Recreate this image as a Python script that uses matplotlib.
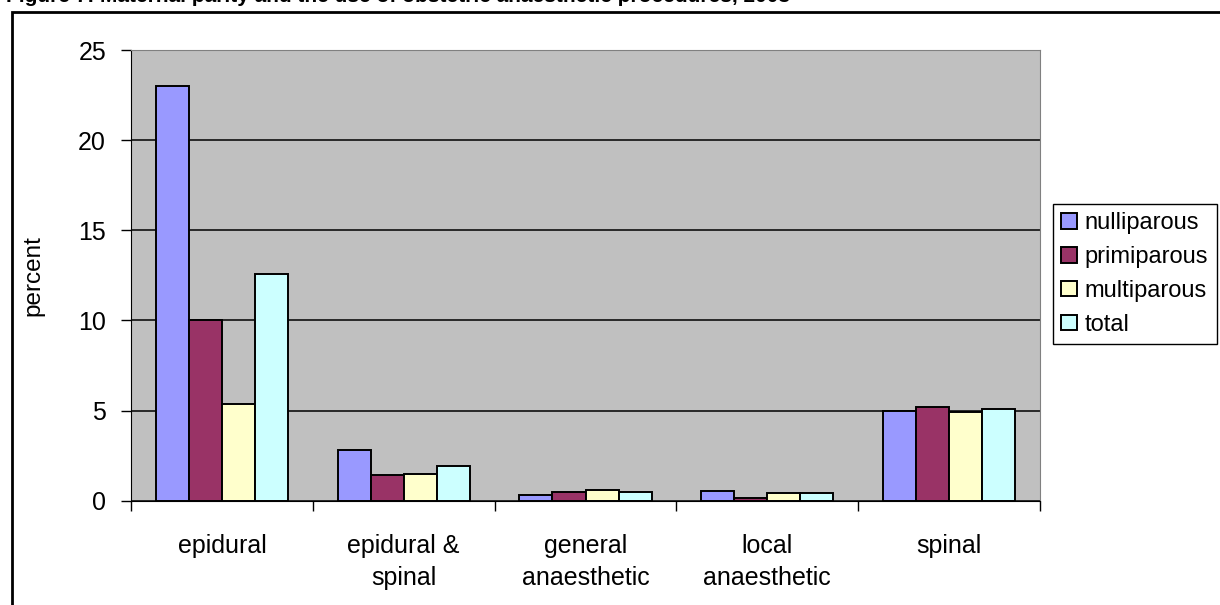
import numpy as np
import matplotlib
matplotlib.use('Agg')
import matplotlib.pyplot as plt
from matplotlib.patches import Rectangle

plt.rcParams['font.family'] = ['Liberation Sans', 'DejaVu Sans']

# anaesthetic procedure by parity, percent of births
categories = ['epidural', 'epidural &\nspinal', 'general\nanaesthetic',
              'local\nanaesthetic', 'spinal']
series = ['nulliparous', 'primiparous', 'multiparous', 'total']
nulliparous = [23.0, 2.84, 0.33, 0.56, 5.0]
primiparous = [10.0, 1.42, 0.47, 0.13, 5.22]
multiparous = [5.37, 1.49, 0.58, 0.41, 4.94]
total = [12.56, 1.92, 0.48, 0.41, 5.07]
colors = ['#9999FF', '#993366', '#FFFFCC', '#CCFFFF']

fig = plt.figure(figsize=(12.2, 6.05), dpi=100)
ax = fig.add_axes([131/1220, 1 - 500.7/605, (1040 - 131)/1220, (500.7 - 50)/605])

x = np.arange(len(categories))
w = 1 / 5.5
for i, (name, vals) in enumerate(zip(series, [nulliparous, primiparous, multiparous, total])):
    ax.bar(x + (i - 1.5) * w, vals, w, color=colors[i], edgecolor='black',
           linewidth=1.4, label=name, zorder=3)

ax.set_facecolor('#C0C0C0')
ax.set_xlim(-0.5, len(categories) - 0.5)
ax.set_ylim(0, 25)
ax.set_yticks([0, 5, 10, 15, 20, 25])
ax.yaxis.grid(True, color='black', linewidth=1.1, zorder=1)
ax.set_axisbelow(True)

# category separators as ticks, labels centred under the groups
ax.set_xticks(np.arange(len(categories) + 1) - 0.5)
ax.set_xticklabels([])
ax.set_xticks(x, minor=True)
ax.set_xticklabels(categories, minor=True, fontsize=18, linespacing=1.4)
ax.tick_params(axis='x', which='major', direction='out', length=7, width=1, colors='black')
ax.tick_params(axis='x', which='minor', length=0, pad=24)
ax.tick_params(axis='y', direction='out', length=7, width=1, labelsize=18, pad=11)

for s in ['top', 'right']:
    ax.spines[s].set_color('#808080')
for s in ['left', 'bottom']:
    ax.spines[s].set_color('black')

ax.set_ylabel('percent', fontsize=17.5, labelpad=24)

leg = ax.legend(loc='upper left', bbox_to_anchor=(1053/1220, 1 - 204/605),
                bbox_transform=fig.transFigure, fontsize=17, frameon=True,
                fancybox=False, edgecolor='black', framealpha=1,
                handlelength=0.65, handleheight=0.65, handletextpad=0.35,
                labelspacing=0.5, borderpad=0.35, borderaxespad=0)
leg.get_frame().set_linewidth(1.0)

# outer chart border and the clipped caption above it
fig.add_artist(Rectangle((12/1220, -0.1), 1.2, (605 - 12)/605 + 0.1,
                         transform=fig.transFigure, fill=False,
                         edgecolor='black', linewidth=2))
fig.text(6/1220, 1 - 2/605,
         'Figure 7: Maternal parity and the use of obstetric anaesthetic procedures, 2003',
         fontsize=15, fontweight='bold', va='baseline', ha='left')

fig.savefig('out.png', dpi=100)
